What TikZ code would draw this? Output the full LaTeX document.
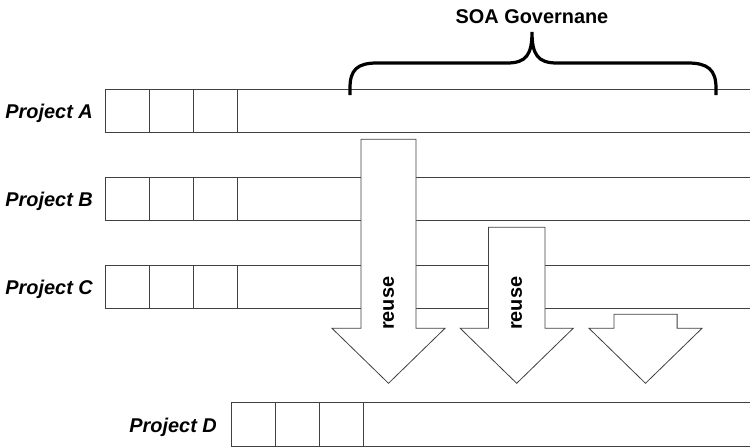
\documentclass[tikz,border=0pt]{standalone}
\usepackage{fontspec}
\setmainfont{Liberation Sans}
\begin{document}
\begin{tikzpicture}[x=1pt,y=-1pt,
  rowline/.style={draw=black!75,line width=0.8pt},
  arrowshape/.style={draw=black!75,line width=0.8pt,fill=white},
  projlabel/.style={anchor=base east,inner sep=0pt,font=\fontsize{19.9}{22}\selectfont\bfseries\itshape},
  boldtext/.style={inner sep=0pt,font=\fontsize{19.9}{22}\selectfont\bfseries}]

\useasboundingbox (0,0) rectangle (750,447);

%PROJECTS
% rows A, B, C
\foreach \name/\top in {A/89,B/177,C/265}{
  \node[projlabel] (lab\name) at (93,\top+29.5) {Project \name};
  \draw[rowline] (750,\top) -- (105,\top) -- (105,\top+43.5) -- (750,\top+43.5);
  \foreach \x in {149,193,237} \draw[rowline] (\x,\top) -- (\x,\top+43.5);
}
% row D
\node[projlabel] (labD) at (217,432) {Project D};
\draw[rowline] (750,402.5) -- (231,402.5) -- (231,446) -- (750,446);
\foreach \x in {275,319,363} \draw[rowline] (\x,402.5) -- (\x,446);

%REUSE ARROWS
% center / shaft half width / top
\foreach \c/\w/\top in {388.5/27.5/139.3, 516.7/28.3/227.3, 645.5/31.6/314.3}
  \draw[arrowshape] (\c-\w,\top) -- (\c+\w,\top) -- (\c+\w,328.3) -- (\c+56.5,328.3)
    -- (\c,383.3) -- (\c-56.5,328.3) -- (\c-\w,328.3) -- cycle;

\node[boldtext,rotate=90] (reuseA) at (388.5,303.3) {reuse};
\node[boldtext,rotate=90] (reuseB) at (516.7,303.3) {reuse};

%GOVERNANCE
\node[boldtext,anchor=base] (gov) at (532,23.3) {SOA Governane};
% brace
\draw[line width=3.2pt] (350,95) -- (350,88) .. controls (350,70) and (357,63) .. (377,63) -- (507,63)
  .. controls (526,63) and (532,55) .. (532,32) .. controls (532,55) and (538,63) .. (557,63)
  -- (688,63) .. controls (708,63) and (716,70) .. (716,88) -- (716,95);

\end{tikzpicture}
\end{document}
